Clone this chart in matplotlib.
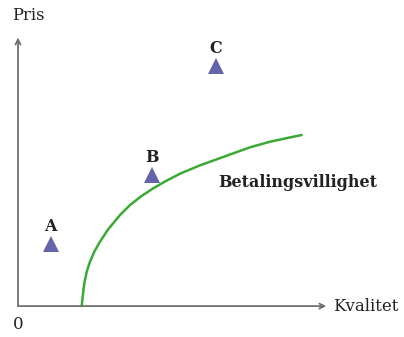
import matplotlib.pyplot as plt

# points (quality, price)
labels = ['A', 'B', 'C']
kvalitet = [1.09, 4.47, 6.6]
pris = [2.08, 4.37, 8.0]

# willingness-to-pay curve, read point by point
curve_x = [2.123, 2.157, 2.21, 2.29, 2.40, 2.543, 2.733, 2.99, 3.123, 3.40, 3.733,
           4.123, 4.51, 4.90, 5.40, 6.067, 6.733, 7.233, 7.733, 8.40, 9.067, 9.457]
curve_y = [0.0, 0.31, 0.757, 1.143, 1.477, 1.81, 2.143, 2.533, 2.70, 3.033, 3.366,
           3.67, 3.925, 4.151, 4.411, 4.69, 4.93, 5.11, 5.29, 5.477, 5.62, 5.70]

fig = plt.figure(figsize=(4.04, 3.37), dpi=100)
ax = fig.add_axes([0, 0, 1, 1])
ax.set_xlim(-0.6, 12.87)
ax.set_ylim(-1.03, 10.2)
ax.axis('off')

font = 'DejaVu Serif'
axis_col = '#707070'
txt_col = '#222222'

# axes with open arrow heads
ax.annotate('', xy=(10.28, 0), xytext=(0, 0),
            arrowprops=dict(arrowstyle='->', color=axis_col, lw=1.3, shrinkA=0, shrinkB=0,
                            mutation_scale=9))
ax.annotate('', xy=(0, 8.95), xytext=(0, 0),
            arrowprops=dict(arrowstyle='->', color=axis_col, lw=1.3, shrinkA=0, shrinkB=0,
                            mutation_scale=9))

ax.text(-0.2, 9.7, 'Pris', family=font, fontsize=11.8, color=txt_col, ha='left', va='center')
ax.text(10.5, 0.0, 'Kvalitet', family=font, fontsize=12, color=txt_col, ha='left', va='center')
ax.text(0.0, -0.62, '0', family=font, fontsize=12, color=txt_col, ha='center', va='center')

ax.plot(curve_x, curve_y, color='#3aaa35', lw=1.8, solid_joinstyle='round',
        solid_capstyle='round')
ax.text(6.67, 4.13, 'Betalingsvillighet', family=font, fontsize=11.5, fontweight='bold',
        color=txt_col, ha='left', va='center')

ax.plot(kvalitet, pris, linestyle='none', marker='^', markersize=11,
        color='#6464aa', markeredgewidth=0)
for lab, x, y in zip(labels, kvalitet, pris):
    ax.text(x, y + 0.58, lab, family=font, fontsize=11.5, fontweight='bold',
            color=txt_col, ha='center', va='center')

fig.savefig('out.png', dpi=100)
